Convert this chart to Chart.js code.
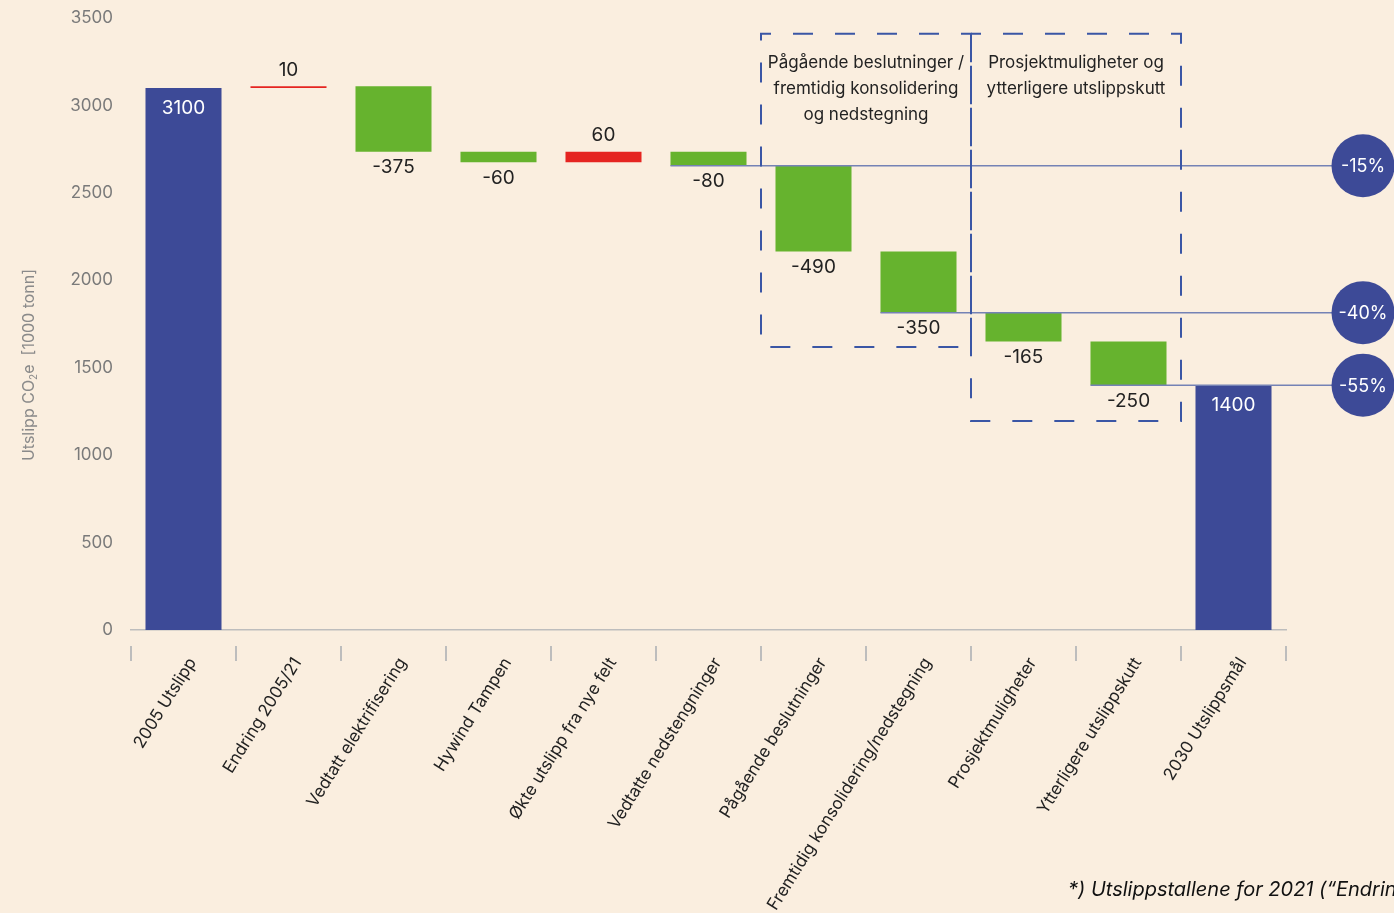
<!DOCTYPE html>
<html>
<head>
<meta charset="utf-8">
<script src="https://cdn.jsdelivr.net/npm/chart.js@4/dist/chart.umd.min.js"></script>
<style>
  html, body { margin: 0; padding: 0; background: #FAEEDF; }
  #wrap { position: relative; width: 1394px; height: 913px; overflow: hidden; }
  canvas { display: block; }
</style>
</head>
<body>
<div id="wrap"><canvas id="c" width="1394" height="913"></canvas></div>
<script>
// ---------- data ----------
const categories = ['2005 Utslipp', 'Endring 2005/21', 'Vedtatt elektrifisering', 'Hywind Tampen',
  'Økte utslipp fra nye felt', 'Vedtatte nedstengninger', 'Pågående beslutninger',
  'Fremtidig konsolidering/nedstegning', 'Prosjektmuligheter', 'Ytterligere utslippskutt', '2030 Utslippsmål'];
const values = [3100, 10, -375, -60, 60, -80, -490, -350, -165, -250, 1400];
const isTotal = [true, false, false, false, false, false, false, false, false, false, true];
const yTicks = [0, 500, 1000, 1500, 2000, 2500, 3000, 3500];

const refLabels = ['-15%', '-40%', '-55%'];
const refValues = [2655, 1815, 1400];
const refFromCategory = [5, 7, 9];

const groupTexts = [
  ['Pågående beslutninger /', 'fremtidig konsolidering', 'og nedstegning'],
  ['Prosjektmuligheter og', 'ytterligere utslippskutt']
];
const groupFirst = [6, 8];
const groupLast = [7, 9];
const groupTop = [3410, 3410];
const groupBottom = [1618, 1195];

const footnote = '*) Utslippstallene for 2021 (\u201CEndring 2005/21\u201D)';

// ---------- derived floating ranges ----------
const ranges = [];
let running = 0;
values.forEach((v, i) => {
  if (isTotal[i]) { ranges.push([0, v]); running = v; }
  else { ranges.push([running, running + v]); running += v; }
});

const BLUE = '#3D4A97', GREEN = '#66B32E', RED = '#E52421';
const colors = values.map((v, i) => isTotal[i] ? BLUE : (v > 0 ? RED : GREEN));
const FONT = 'Inter, "Open Sans", sans-serif';

const bgPlugin = {
  id: 'bg',
  beforeDraw(chart) {
    const ctx = chart.ctx;
    ctx.save(); ctx.fillStyle = '#FAEEDF';
    ctx.fillRect(0, 0, chart.width, chart.height); ctx.restore();
  }
};

const decoPlugin = {
  id: 'deco',
  afterDatasetsDraw(chart) {
    const ctx = chart.ctx;
    const xs = chart.scales.x, ys = chart.scales.y;
    const meta = chart.getDatasetMeta(0);
    const ca = chart.chartArea;
    ctx.save();

    // tick marks at category boundaries (below axis, with gap)
    ctx.strokeStyle = '#BDBDBD'; ctx.lineWidth = 2;
    for (let i = 0; i <= categories.length; i++) {
      const x = Math.round(xs.getPixelForValue(i - 0.5));
      ctx.beginPath(); ctx.moveTo(x, ca.bottom + 16); ctx.lineTo(x, ca.bottom + 31); ctx.stroke();
    }

    // reference lines
    ctx.strokeStyle = '#7482B5'; ctx.lineWidth = 1.5;
    refValues.forEach((v, k) => {
      const bar = meta.data[refFromCategory[k]];
      const y = ys.getPixelForValue(v);
      ctx.beginPath(); ctx.moveTo(bar.x - bar.width / 2, y); ctx.lineTo(chart.width, y); ctx.stroke();
    });

    // data labels
    ctx.font = '19px ' + FONT; ctx.textAlign = 'center'; ctx.textBaseline = 'middle';
    meta.data.forEach((bar, i) => {
      const v = values[i];
      const top = Math.min(bar.y, bar.base), bottom = Math.max(bar.y, bar.base);
      if (isTotal[i]) { ctx.fillStyle = '#FFFFFF'; ctx.fillText(String(v), bar.x, top + 20); }
      else if (v > 0) { ctx.fillStyle = '#222222'; ctx.fillText(String(v), bar.x, top - 16); }
      else { ctx.fillStyle = '#222222'; ctx.fillText(String(v), bar.x, bottom + 16); }
    });

    // dashed group boxes
    ctx.strokeStyle = '#3A56A5'; ctx.lineWidth = 2; ctx.setLineDash([20, 22]);
    groupFirst.forEach((f, k) => {
      const x0 = xs.getPixelForValue(f - 0.5), x1 = xs.getPixelForValue(groupLast[k] + 0.5);
      const y0 = ys.getPixelForValue(groupTop[k]), y1 = ys.getPixelForValue(groupBottom[k]);
      ctx.lineDashOffset = 10;
      ctx.strokeRect(x0, y0, x1 - x0, y1 - y0);
    });
    ctx.setLineDash([]);
    ctx.fillStyle = '#222222'; ctx.font = '17px ' + FONT;
    groupFirst.forEach((f, k) => {
      const x0 = xs.getPixelForValue(f - 0.5), x1 = xs.getPixelForValue(groupLast[k] + 0.5);
      const y0 = ys.getPixelForValue(groupTop[k]);
      groupTexts[k].forEach((t, j) => ctx.fillText(t, (x0 + x1) / 2, y0 + 29 + j * 26));
    });

    // circles with percent
    refValues.forEach((v, k) => {
      const y = ys.getPixelForValue(v);
      ctx.fillStyle = BLUE;
      ctx.beginPath(); ctx.arc(chart.width - 31, y, 31.5, 0, Math.PI * 2); ctx.fill();
      ctx.fillStyle = '#FFFFFF'; ctx.font = '18px ' + FONT;
      ctx.fillText(refLabels[k], chart.width - 31, y + 1);
    });

    // y axis title with subscript
    ctx.save();
    ctx.translate(29, 365); ctx.rotate(-Math.PI / 2);
    ctx.fillStyle = '#8A8A8A'; ctx.textBaseline = 'middle'; ctx.textAlign = 'left';
    const p1 = 'Utslipp CO', p2 = '2', p3 = 'e  [1000 tonn]';
    ctx.font = '16px ' + FONT;
    const w1 = ctx.measureText(p1).width, w3 = ctx.measureText(p3).width;
    ctx.font = '10px ' + FONT;
    const w2 = ctx.measureText(p2).width;
    let x = -(w1 + w2 + w3) / 2;
    ctx.font = '16px ' + FONT; ctx.fillText(p1, x, 0); x += w1;
    ctx.font = '10px ' + FONT; ctx.fillText(p2, x, 5); x += w2;
    ctx.font = '16px ' + FONT; ctx.fillText(p3, x, 0);
    ctx.restore();

    // footnote
    ctx.font = 'italic 20px ' + FONT; ctx.fillStyle = '#111111';
    ctx.textAlign = 'left'; ctx.textBaseline = 'alphabetic';
    ctx.fillText(footnote, 1068, 896);

    ctx.restore();
  }
};

new Chart(document.getElementById('c'), {
  type: 'bar',
  data: {
    labels: categories,
    datasets: [{
      data: ranges,
      backgroundColor: colors,
      borderWidth: 0,
      borderSkipped: false,
      categoryPercentage: 1,
      barPercentage: 0.724
    }]
  },
  options: {
    responsive: false,
    animation: false,
    devicePixelRatio: 1,
    layout: { padding: { top: 18, right: 108, left: 0, bottom: 0 } },
    plugins: { legend: { display: false }, tooltip: { enabled: false } },
    scales: {
      x: {
        grid: { display: false },
        border: { display: true, color: '#BDBDBD', width: 1.5 },
        ticks: {
          autoSkip: false, minRotation: 58, maxRotation: 58,
          color: '#222222', font: { family: FONT, size: 17 }, padding: 16, labelOffset: 9
        },
        afterFit(s) { s.height = 283; s.paddingLeft = 0; s.paddingRight = 0; }
      },
      y: {
        min: 0, max: 3500,
        afterBuildTicks(s) { s.ticks = yTicks.map(v => ({ value: v })); },
        grid: { display: false },
        border: { display: false },
        ticks: {
          color: '#7A7A7A', font: { family: FONT, size: 17 }, padding: 10,
          callback: v => String(v)
        },
        afterFit(s) { s.width = 131; s.paddingTop = 0; s.paddingBottom = 0; }
      }
    }
  },
  plugins: [bgPlugin, decoPlugin]
});
</script>
</body>
</html>
